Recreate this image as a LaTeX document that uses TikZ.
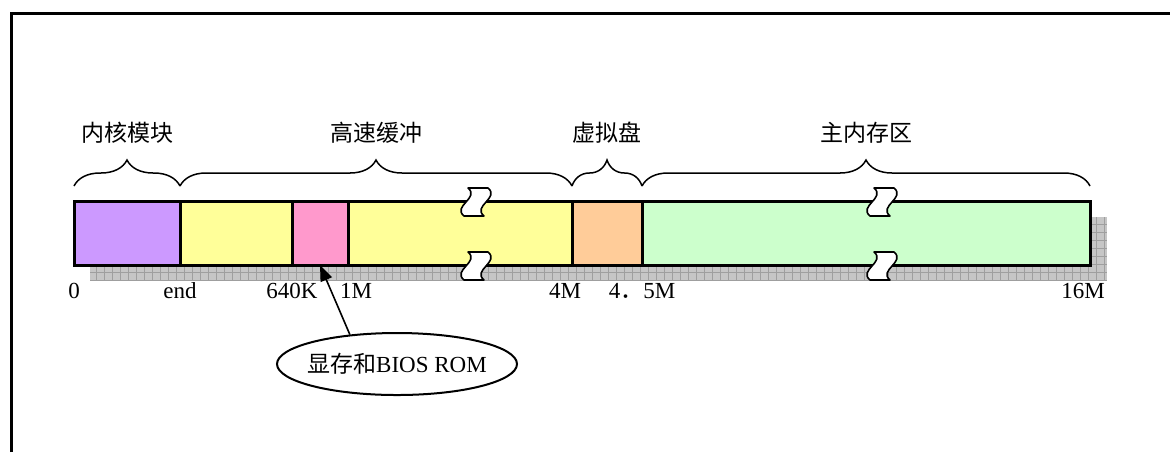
\documentclass[tikz,border=0pt]{standalone}
\usepackage{fontspec}
\setmainfont{Liberation Serif}
\newfontfamily\cjk{Noto Sans CJK SC}
\usetikzlibrary{shapes.geometric,arrows.meta,positioning,decorations.pathreplacing}

\definecolor{kernelc}{HTML}{CC99FF}
\definecolor{bufferc}{HTML}{FFFF99}
\definecolor{vramc}{HTML}{FF99CC}
\definecolor{ramdiskc}{HTML}{FFCC99}
\definecolor{mainc}{HTML}{CCFFCC}

% break mark across the bar edge at (#1,#2)
\newcommand{\tear}[2]{%
  \draw[line width=0.8pt, fill=white, line join=round]
    (#1-6,#2-14) -- (#1+14,#2-14)
    .. controls (#1+26,#2-4) and (#1-2,#2+4) .. (#1+10,#2+14)
    -- (#1-10,#2+14)
    .. controls (#1-22,#2+4) and (#1+6,#2-4) .. cycle;}

\begin{document}
\begin{tikzpicture}[
    x=0.5pt, y=-0.5pt,
    font=\fontsize{11.5pt}{13pt}\selectfont,
    seg/.style={draw, line width=1.5pt, minimum height=32pt, inner sep=0pt, outer sep=0pt},
    brace/.style={decorate, decoration={brace, amplitude=13pt}, line width=0.75pt},
    lbl/.style={midway, yshift=26.5pt},
    addr/.style={anchor=center, inner sep=0pt},
    arrow/.style={-{Triangle[length=8pt, width=6pt]}, line width=0.8pt},
    node distance=0pt
]
\useasboundingbox (0,0) rectangle (1170,452);
\draw[line width=1.5pt] (11,452) -- (11,13) -- (1170,13);

% shadow under the bar
\fill[gray!45] (90,217) rectangle (1107,280);
\draw[gray!75, line width=0.3pt, step=4pt] (90,217) grid (1107,280);

\node[seg, fill=kernelc, minimum width=53pt, anchor=west] (kern) at (74,233) {};
\node[seg, fill=bufferc, minimum width=56pt, right=of kern] (buf1) {};
\node[seg, fill=vramc, minimum width=28pt, right=of buf1] (vram) {};
\node[seg, fill=bufferc, minimum width=112pt, right=of vram] (buf2) {};
\node[seg, fill=ramdiskc, minimum width=35pt, right=of buf2] (rdisk) {};
\node[seg, fill=mainc, minimum width=224pt, right=of rdisk] (mem) {};

\tear{474}{202}
\tear{474}{266}
\tear{880}{202}
\tear{880}{266}

\draw[brace] ([yshift=7.5pt]kern.north west) -- ([yshift=7.5pt]kern.north east)
  node[lbl] {\cjk 内核模块};
\draw[brace] ([yshift=7.5pt]buf1.north west) -- ([yshift=7.5pt]buf2.north east)
  node[lbl] {\cjk 高速缓冲};
\draw[brace] ([yshift=7.5pt]rdisk.north west) -- ([yshift=7.5pt]rdisk.north east)
  node[lbl] {\cjk 虚拟盘};
\draw[brace] ([yshift=7.5pt]mem.north west) -- ([yshift=7.5pt]mem.north east)
  node[lbl] {\cjk 主内存区};

\node[addr] (a0) at ([yshift=-13pt]kern.south west) {0};
\node[addr] (aend) at ([yshift=-13pt]buf1.south west) {end};
\node[addr] (a640) at ([yshift=-13pt]vram.south west) {640K};
\node[addr] (a1m) at ([xshift=4pt, yshift=-13pt]vram.south east) {1M};
\node[addr] (a4m) at ([xshift=-3.5pt, yshift=-13pt]buf2.south east) {4M};
\node[addr] (a45m) at ([yshift=-13pt]rdisk.south east) {4{\cjk ．}5M};
\node[addr] (a16m) at ([xshift=-3.5pt, yshift=-13pt]mem.south east) {16M};

\node[ellipse, draw, line width=1pt, inner xsep=-8pt, inner ysep=0pt, minimum width=120pt, minimum height=31pt] (bios) at (397,364) {{\cjk 显存和}BIOS ROM};
\draw[arrow] (bios.148) -- (vram.south);
\end{tikzpicture}
\end{document}
